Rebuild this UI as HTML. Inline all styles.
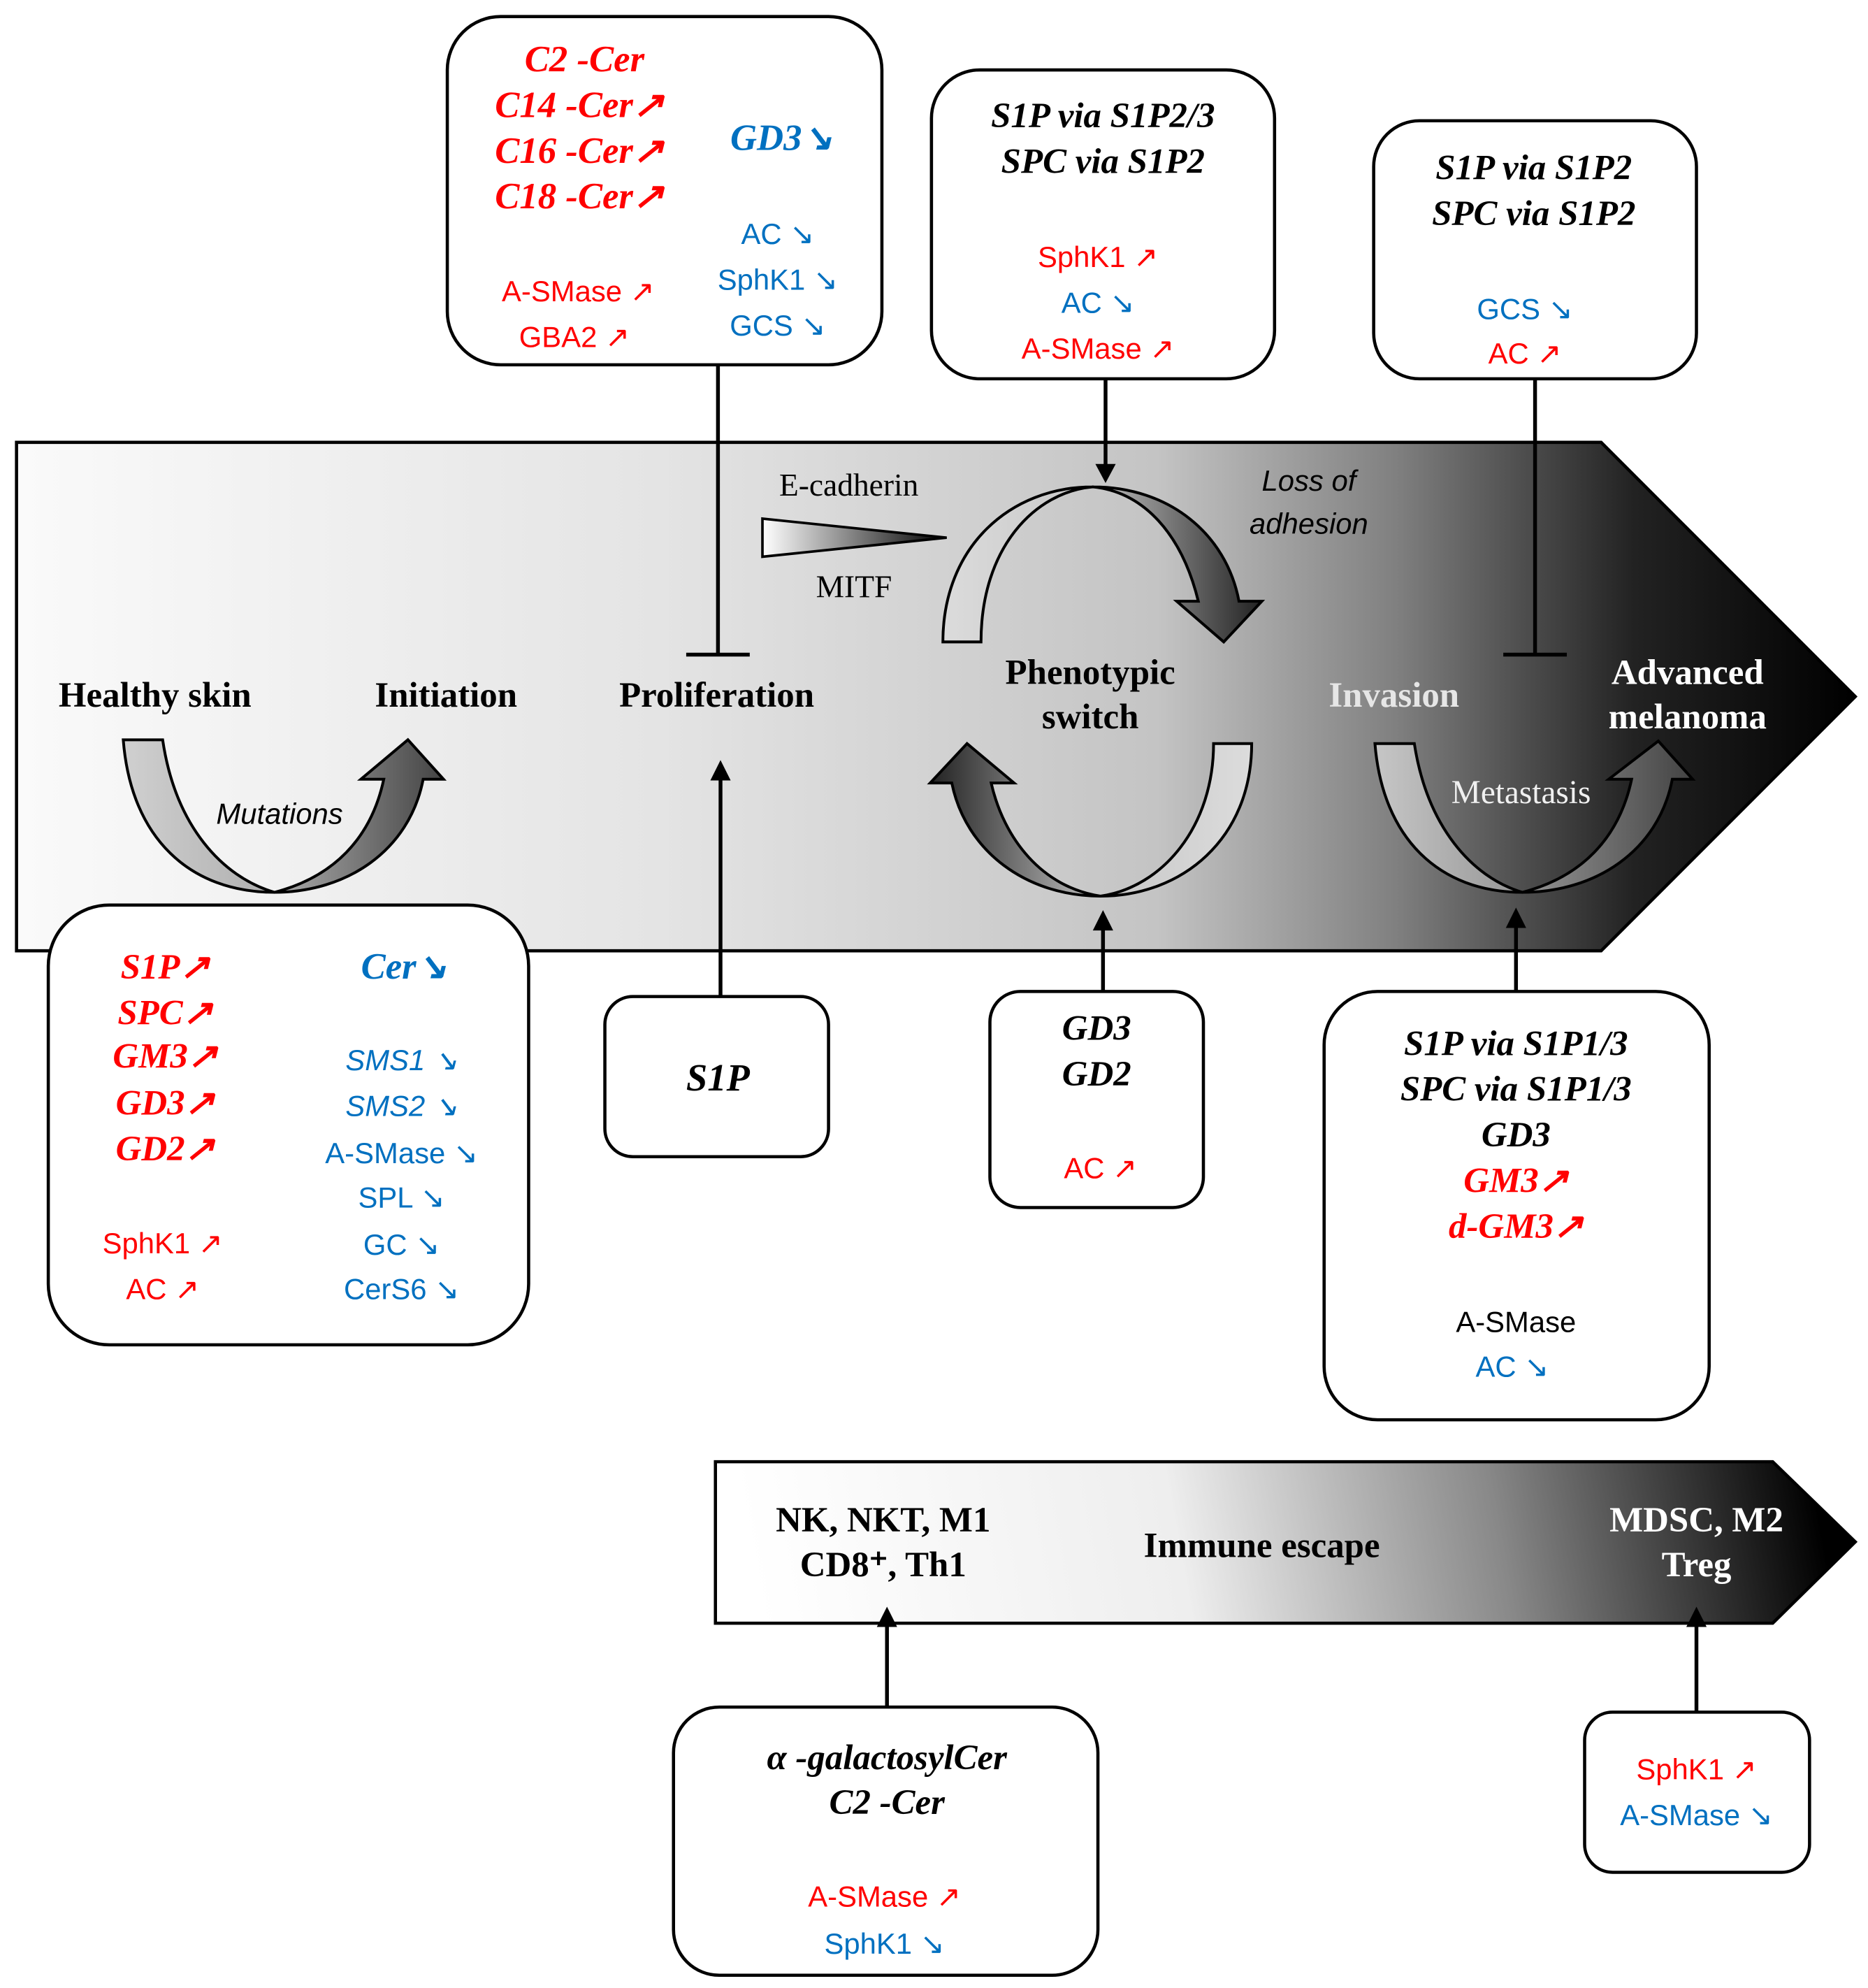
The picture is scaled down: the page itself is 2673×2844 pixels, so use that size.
<!DOCTYPE html>
<html><head><meta charset="utf-8"><style>
html,body{margin:0;padding:0;background:#fff;}
svg{display:block;}
.t{font-family:"Liberation Serif",serif;font-weight:bold;font-style:italic;text-anchor:middle;}
.s{font-family:"Liberation Sans",sans-serif;text-anchor:middle;font-size:23px;}
.st{font-family:"Liberation Serif",serif;font-weight:bold;text-anchor:middle;font-size:28px;}
.r{fill:#ff0000}.b{fill:#0070c0}
</style></head><body>
<svg width="2673" height="2844" viewBox="0 0 1470 1564" xmlns="http://www.w3.org/2000/svg">
<defs>
<linearGradient id="main" x1="13" y1="0" x2="1460" y2="0" gradientUnits="userSpaceOnUse">
<stop offset="0" stop-color="#fafafa"/><stop offset="0.35" stop-color="#e4e4e4"/><stop offset="0.62" stop-color="#c4c4c4"/><stop offset="0.75" stop-color="#808080"/><stop offset="0.88" stop-color="#222"/><stop offset="1" stop-color="#000"/>
</linearGradient>
<linearGradient id="imm" x1="600" y1="1280" x2="1420" y2="1130" gradientUnits="userSpaceOnUse">
<stop offset="0" stop-color="#fff"/><stop offset="0.4" stop-color="#eee"/><stop offset="0.7" stop-color="#888"/><stop offset="1" stop-color="#000"/>
</linearGradient>
<linearGradient id="tri" x1="600" y1="0" x2="745" y2="0" gradientUnits="userSpaceOnUse">
<stop offset="0" stop-color="#fff"/><stop offset="1" stop-color="#000"/>
</linearGradient>
<linearGradient id="g1" x1="97" y1="0" x2="349" y2="0" gradientUnits="userSpaceOnUse">
<stop offset="0" stop-color="#d0d0d0"/><stop offset="0.45" stop-color="#b0b0b0"/><stop offset="1" stop-color="#444"/>
</linearGradient>
<linearGradient id="g2" x1="739" y1="0" x2="993" y2="0" gradientUnits="userSpaceOnUse">
<stop offset="0" stop-color="#dcdcdc"/><stop offset="0.45" stop-color="#c8c8c8"/><stop offset="1" stop-color="#222"/>
</linearGradient>
<linearGradient id="g3" x1="985" y1="0" x2="732" y2="0" gradientUnits="userSpaceOnUse">
<stop offset="0" stop-color="#dcdcdc"/><stop offset="0.45" stop-color="#c8c8c8"/><stop offset="1" stop-color="#222"/>
</linearGradient>
<linearGradient id="g4" x1="1078" y1="0" x2="1330" y2="0" gradientUnits="userSpaceOnUse">
<stop offset="0" stop-color="#c8c8c8"/><stop offset="0.45" stop-color="#999"/><stop offset="1" stop-color="#444"/>
</linearGradient>
</defs>

<polygon points="13,348 1260,348 1460,548 1260,748 13,748" fill="url(#main)" stroke="#000" stroke-width="2.5"/>
<polygon points="563,1150 1395,1150 1460,1213 1395,1277 563,1277" fill="url(#imm)" stroke="#000" stroke-width="2.5"/>

<!-- curved arrows -->
<g stroke="#000" stroke-width="2.2" stroke-linejoin="miter">
<path d="M97,582 L128,582 C138,650 175,690 216,702 C262,690 292,660 302,613 L284,613 L321,582 L349,613 L333,613 C322,670 272,702 216,702 C150,702 103,660 97,582 Z" fill="url(#g1)"/>
<path d="M742,505 C742,430 795,383 860,383 C920,383 965,420 975,473 L993,473 L963,505 L926,473 L943,473 C930,420 900,387 860,383 C815,387 772,430 772,505 Z" fill="url(#g2)"/>
<path d="M985,585 L955,585 C955,650 915,698 866,705 C820,698 790,660 780,616 L798,616 L761,585 L732,616 L749,616 C760,670 808,705 866,705 C930,705 985,660 985,585 Z" fill="url(#g3)"/>
<path d="M1082,585 L1113,585 C1123,650 1158,690 1198,702 C1244,690 1274,660 1284,613 L1266,613 L1305,583 L1332,613 L1316,613 C1305,670 1255,702 1198,702 C1133,702 1088,660 1082,585 Z" fill="url(#g4)"/>
</g>
<polygon points="600,408 745,423 600,438" fill="url(#tri)" stroke="#000" stroke-width="2"/>

<g stroke="#000" stroke-width="3" fill="none">
<line x1="565" y1="287" x2="565" y2="515"/><line x1="540" y1="515" x2="590" y2="515"/>
<line x1="1208" y1="298" x2="1208" y2="515"/><line x1="1183" y1="515" x2="1233" y2="515"/>
<line x1="870" y1="298" x2="870" y2="368"/>
<line x1="567" y1="784" x2="567" y2="612"/>
<line x1="868" y1="780" x2="868" y2="730"/>
<line x1="1193" y1="780" x2="1193" y2="728"/>
<line x1="698" y1="1343" x2="698" y2="1277"/>
<line x1="1335" y1="1347" x2="1335" y2="1277"/>
</g>
<g fill="#000">
<polygon points="862,365 878,365 870,380"/>
<polygon points="559,614 575,614 567,598"/>
<polygon points="860,732 876,732 868,716"/>
<polygon points="1185,730 1201,730 1193,714"/>
<polygon points="690,1280 706,1280 698,1264"/>
<polygon points="1327,1280 1343,1280 1335,1264"/>
</g>

<g fill="#fff" stroke="#000" stroke-width="2.5">
<rect x="352" y="13" width="342" height="274" rx="42"/>
<rect x="733" y="55" width="270" height="243" rx="38"/>
<rect x="1081" y="95" width="254" height="203" rx="36"/>
<rect x="38" y="712" width="378" height="346" rx="48"/>
<rect x="476" y="784" width="176" height="126" rx="22"/>
<rect x="779" y="780" width="168" height="170" rx="24"/>
<rect x="1042" y="780" width="303" height="337" rx="42"/>
<rect x="530" y="1343" width="334" height="211" rx="36"/>
<rect x="1247" y="1347" width="177" height="126" rx="22"/>
</g>

<g class="t r" font-size="29">
<text x="460" y="56">C2 -Cer</text><text x="456" y="92">C14 -Cer↗</text>
<text x="456" y="128">C16 -Cer↗</text><text x="456" y="164">C18 -Cer↗</text></g>
<text class="t b" font-size="29" x="615" y="118">GD3↘</text>
<g class="s b"><text x="612" y="192">AC ↘</text><text x="612" y="228">SphK1 ↘</text><text x="612" y="264">GCS ↘</text></g>
<g class="s r"><text x="455" y="237">A-SMase ↗</text><text x="452" y="273">GBA2 ↗</text></g>

<g class="t" font-size="28"><text x="868" y="100">S1P via S1P2/3</text><text x="868" y="136">SPC via S1P2</text></g>
<g class="s"><text class="r" x="864" y="210">SphK1 ↗</text><text class="b" x="864" y="246">AC ↘</text><text class="r" x="864" y="282">A-SMase ↗</text></g>

<g class="t" font-size="28"><text x="1207" y="141">S1P via S1P2</text><text x="1207" y="177">SPC via S1P2</text></g>
<g class="s"><text class="b" x="1200" y="251">GCS ↘</text><text class="r" x="1200" y="286">AC ↗</text></g>

<text x="668" y="390" font-family="Liberation Serif,serif" font-size="25" text-anchor="middle">E-cadherin</text>
<text x="672" y="470" font-family="Liberation Serif,serif" font-size="25" text-anchor="middle">MITF</text>
<g font-family="Liberation Sans,sans-serif" font-style="italic" font-size="23" text-anchor="middle">
<text x="1030" y="386">Loss of</text><text x="1030" y="420">adhesion</text>
<text x="220" y="648">Mutations</text></g>
<g class="st">
<text x="122" y="556">Healthy skin</text><text x="351" y="556">Initiation</text>
<text x="564" y="556">Proliferation</text>
<text x="858" y="538">Phenotypic</text><text x="858" y="573">switch</text>
<text x="1097" y="556" fill="#e6e6e6">Invasion</text>
<text x="1328" y="538" fill="#fff">Advanced</text><text x="1328" y="573" fill="#fff">melanoma</text>
</g>
<text x="1197" y="632" font-family="Liberation Serif,serif" font-size="26" text-anchor="middle" fill="#f0f0f0">Metastasis</text>

<g class="t r" font-size="28">
<text x="130" y="770">S1P↗</text><text x="130" y="806">SPC↗</text><text x="130" y="840">GM3↗</text>
<text x="130" y="877">GD3↗</text><text x="130" y="913">GD2↗</text></g>
<g class="s r"><text x="128" y="986">SphK1 ↗</text><text x="128" y="1022">AC ↗</text></g>
<text class="t b" font-size="29" x="318" y="770">Cer↘</text>
<g class="s b"><g font-style="italic"><text x="316" y="842">SMS1 ↘</text><text x="316" y="878">SMS2 ↘</text></g>
<text x="316" y="915">A-SMase ↘</text><text x="316" y="950">SPL ↘</text><text x="316" y="987">GC ↘</text><text x="316" y="1022">CerS6 ↘</text></g>

<text class="t" font-size="30" x="565" y="858">S1P</text>
<g class="t" font-size="28"><text x="863" y="818">GD3</text><text x="863" y="854">GD2</text></g>
<text class="s r" x="866" y="927">AC ↗</text>

<g class="t" font-size="28"><text x="1193" y="830">S1P via S1P1/3</text><text x="1193" y="866">SPC via S1P1/3</text><text x="1193" y="902">GD3</text>
<text class="r" x="1193" y="938">GM3↗</text><text class="r" x="1193" y="974">d-GM3↗</text></g>
<g class="s"><text x="1193" y="1048">A-SMase</text><text class="b" x="1190" y="1083">AC ↘</text></g>

<g class="st" font-size="26">
<text x="695" y="1205">NK, NKT, M1</text><text x="695" y="1240">CD8⁺, Th1</text>
<text x="993" y="1225">Immune escape</text>
<text x="1335" y="1205" fill="#fff">MDSC, M2</text><text x="1335" y="1240" fill="#fff">Treg</text></g>

<g class="t" font-size="28"><text x="698" y="1392">α -galactosylCer</text><text x="698" y="1427">C2 -Cer</text></g>
<g class="s"><text class="r" x="696" y="1500">A-SMase ↗</text><text class="b" x="696" y="1537">SphK1 ↘</text></g>
<g class="s"><text class="r" x="1335" y="1400">SphK1 ↗</text><text class="b" x="1335" y="1436">A-SMase ↘</text></g>
</svg>
</body></html>
